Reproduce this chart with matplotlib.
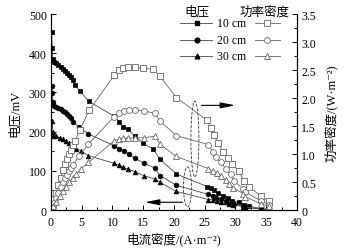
import matplotlib
matplotlib.use("Agg")
import matplotlib.pyplot as plt
from matplotlib.patches import Ellipse
from matplotlib.ticker import MultipleLocator

plt.rcParams['font.family'] = ['Liberation Serif', 'Noto Sans CJK SC', 'DejaVu Sans']
plt.rcParams['font.size'] = 8

# current density (A/m2), voltage (mV), power density (W/m2) for each distance
i10 = [0.1, 0.2, 0.3, 0.5, 0.8, 1.2, 1.6, 2.0, 2.3, 2.6, 2.9, 3.2, 3.5, 3.9, 4.7, 6.2,
       10.3, 11.1, 11.7, 12.5, 13.7, 15.0, 16.6, 17.7, 20.4,
       25.4, 26.0, 26.5, 27.2, 28.0, 28.8, 29.5, 30.5, 31.4, 32.2, 34.1, 35.5]
v10 = [453, 413, 385, 377, 374, 370, 365, 360, 355, 350, 345, 339, 332, 318, 304, 277,
       239, 225, 213, 206, 188, 170, 156, 130, 92,
       60, 56, 50, 44, 36, 30, 24, 20, 14, 10, 4, 2]
p10 = [0.04, 0.08, 0.12, 0.19, 0.30, 0.44, 0.58, 0.72, 0.82, 0.91, 1.00, 1.08, 1.16, 1.24, 1.43, 1.78,
       2.41, 2.50, 2.54, 2.55, 2.55, 2.53, 2.52, 2.39, 2.01,
       1.60, 1.47, 1.34, 1.19, 1.04, 0.93, 0.83, 0.70, 0.52, 0.42, 0.25, 0.16]

i20 = [0.2, 0.2, 0.3, 0.5, 0.8, 1.2, 1.6, 2.0, 2.3, 2.6, 2.9, 3.2, 3.6, 4.6, 6.1,
       10.3, 11.1, 11.9, 12.7, 13.6, 15.1, 16.9, 17.7, 20.4,
       25.6, 26.4, 26.9, 27.6, 28.5, 29.2, 29.7, 31.3, 31.6, 34.1, 35.5]
v20 = [316, 298, 275, 266, 262, 260, 257, 253, 249, 244, 239, 234, 225, 211, 194,
       164, 157, 151, 143, 132, 120, 107, 88, 63,
       40, 35, 31, 28, 24, 19, 15, 10, 8, 3, 1]
p20 = [0.04, 0.06, 0.08, 0.13, 0.21, 0.31, 0.41, 0.51, 0.57, 0.63, 0.69, 0.75, 0.81, 0.97, 1.18,
       1.67, 1.74, 1.77, 1.79, 1.79, 1.77, 1.73, 1.59, 1.33,
       1.17, 1.03, 0.94, 0.85, 0.73, 0.64, 0.52, 0.38, 0.32, 0.17, 0.09]

i30 = [0.2, 0.3, 0.4, 0.8, 1.4, 1.9, 2.4, 3.0, 3.5, 4.1, 4.9, 6.1,
       10.3, 11.0, 11.7, 12.5, 13.6, 15.1, 16.9, 17.7, 20.3,
       25.6, 26.4, 27.0, 27.7, 28.5, 29.0, 29.6, 31.3, 31.6, 34.1, 35.5]
v30 = [228, 198, 190, 188, 185, 181, 177, 171, 164, 157, 151, 139,
       119, 115, 109, 105, 98, 88, 79, 71, 48,
       27, 26, 24, 21, 20, 16, 13, 9, 7, 3, 1]
p30 = [0.04, 0.06, 0.08, 0.15, 0.26, 0.34, 0.42, 0.51, 0.57, 0.64, 0.74, 0.85,
       1.24, 1.27, 1.29, 1.28, 1.29, 1.29, 1.32, 1.18, 0.96,
       0.74, 0.70, 0.66, 0.61, 0.53, 0.46, 0.40, 0.29, 0.24, 0.11, 0.07]

labels = ["10 cm", "20 cm", "30 cm"]
markers = ["s", "o", "^"]

fig = plt.figure(figsize=(3.54, 2.51), dpi=100)
ax = fig.add_axes([0.144, 0.159, 0.695, 0.781])
ax2 = ax.twinx()

lc = "#444444"
oc = "#666666"
for i, v, p, m in zip([i10, i20, i30], [v10, v20, v30], [p10, p20, p30], markers):
    ax.plot(i, v, color=lc, lw=0.6, marker=m, ms=3.4, mfc="black", mec="black", mew=0.5)
    ax2.plot(i, p, color=oc, lw=0.6, marker=m, ms=4.2, mfc="white", mec=oc, mew=0.6)

ax.set_xlim(0, 40)
ax.set_ylim(0, 500)
ax2.set_ylim(0, 3.5)
ax.xaxis.set_major_locator(MultipleLocator(5))
ax.xaxis.set_minor_locator(MultipleLocator(2.5))
ax.yaxis.set_major_locator(MultipleLocator(100))
ax.yaxis.set_minor_locator(MultipleLocator(50))
ax2.yaxis.set_major_locator(MultipleLocator(0.5))
ax2.yaxis.set_minor_locator(MultipleLocator(0.25))
ax2.set_yticks(ax2.get_yticks())
ax2.set_yticklabels(["%g" % t if t == 0 else "%.1f" % t for t in ax2.get_yticks()])
ax2.set_ylim(0, 3.5)

for a in (ax, ax2):
    a.spines["top"].set_visible(False)
    a.tick_params(which="both", direction="in", width=0.7, pad=3, labelsize=8.5)
    a.tick_params(which="major", length=3.5)
    a.tick_params(which="minor", length=2)
    for s in a.spines.values():
        s.set_linewidth(0.8)
ax.tick_params(axis="x", pad=4)

ax.set_xlabel("电流密度/(A·m⁻²)", fontsize=9, labelpad=3)
ax.set_ylabel("电压/mV", fontsize=9, labelpad=6)
ax2.set_ylabel("功率密度/(W·m⁻²)", fontsize=9, labelpad=6)

# dashed ellipses and arrows
ax2.add_patch(Ellipse((23.4, 1.27), 1.3, 1.35, fill=False, ls="--", lw=0.6, ec="#333333"))
ax.add_patch(Ellipse((22.2, 59), 1.3, 102, fill=False, ls="--", lw=0.6, ec="#333333"))
ax2.annotate("", xy=(30.4, 1.87), xytext=(24.0, 1.87),
             arrowprops=dict(arrowstyle="-|>,head_length=1.1,head_width=0.22", color="black", lw=0.8))
ax.annotate("", xy=(14.8, 20), xytext=(21.8, 20),
             arrowprops=dict(arrowstyle="-|>,head_length=1.1,head_width=0.22", color="black", lw=0.8))

# legend built by hand: filled marker, label, open marker
tr = ax.transAxes
ax.text(0.593, 1.015, "电压", transform=tr, ha="center", va="center", fontsize=9)
ax.text(0.870, 1.015, "功率密度", transform=tr, ha="center", va="center", fontsize=9)
for k, (lab, m) in enumerate(zip(labels, markers)):
    yy = 0.952 - k * 0.083
    ax.plot([0.524, 0.654], [yy, yy], transform=tr, color=lc, lw=0.6, clip_on=False)
    ax.plot([0.593], [yy], transform=tr, marker=m, ms=3.4, mfc="black", mec="black", clip_on=False)
    ax.text(0.675, yy, lab, transform=tr, ha="left", va="center", fontsize=8.5)
    ax.plot([0.829, 0.931], [yy, yy], transform=tr, color=oc, lw=0.6, clip_on=False)
    ax.plot([0.878], [yy], transform=tr, marker=m, ms=4.2, mfc="white", mec=oc, mew=0.6, clip_on=False)

fig.savefig("out.png", dpi=100)
